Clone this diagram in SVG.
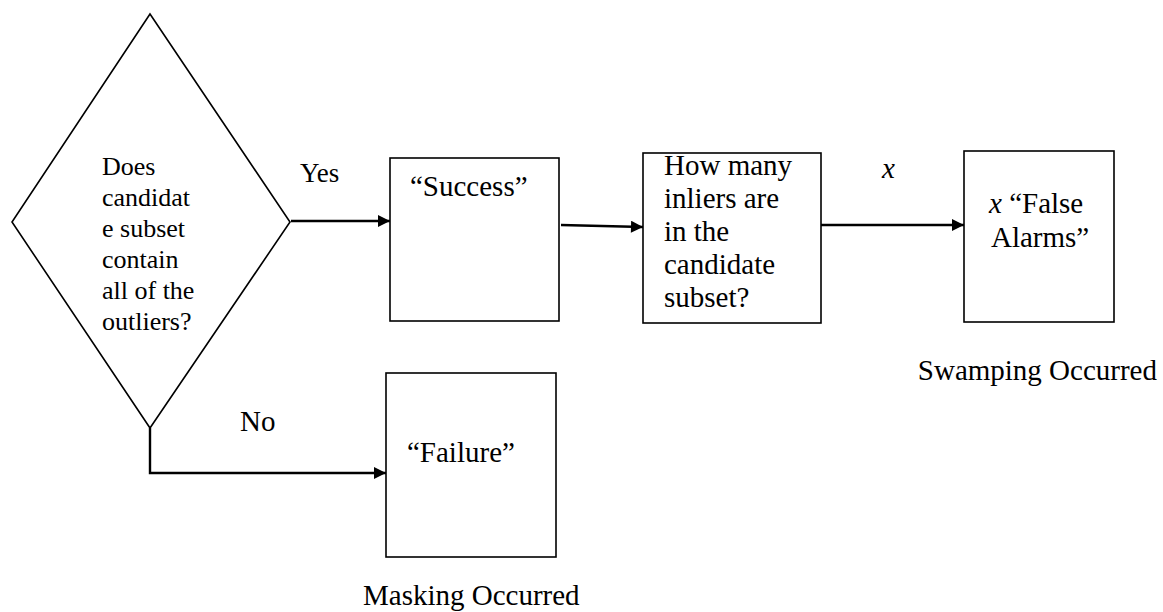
<svg xmlns="http://www.w3.org/2000/svg" width="1163" height="612" viewBox="0 0 1163 612">
<defs>
<style>
.shape{fill:#fff;stroke:#000;stroke-width:1.6}
.t{font-family:"Times New Roman","Liberation Serif",Tinos,"DejaVu Serif",serif;font-size:29px;fill:#000}
.td{font-family:"Times New Roman","Liberation Serif",Tinos,"DejaVu Serif",serif;font-size:26px;fill:#000}
.conn{fill:none;stroke:#000;stroke-width:2.4}
</style>
<marker id="ah" viewBox="0 0 10 10" refX="10" refY="5" markerWidth="6" markerHeight="5" markerUnits="strokeWidth" orient="auto">
<path d="M0,0 L10,5 L0,10 z" fill="#000"/>
</marker>
</defs>
<rect width="1163" height="612" fill="#fff"/>
<g id="decision">
<polygon class="shape" points="150,14 290,222 150,428 12,222"/>
<text class="td"><tspan x="102" y="175">Does</tspan><tspan x="102" y="206">candidat</tspan><tspan x="102" y="237">e subset</tspan><tspan x="102" y="268">contain</tspan><tspan x="102" y="299">all of the</tspan><tspan x="102" y="330">outliers?</tspan></text>
</g>
<g id="success">
<rect class="shape" x="390" y="158" width="169" height="163"/>
<text class="t" x="410" y="196">“Success”</text>
</g>
<g id="howmany">
<rect class="shape" x="643" y="153" width="178" height="170"/>
<text class="t"><tspan x="664" y="175">How many</tspan><tspan x="664" y="208">inliers are</tspan><tspan x="664" y="241">in the</tspan><tspan x="664" y="274">candidate</tspan><tspan x="664" y="307">subset?</tspan></text>
</g>
<g id="falsealarms">
<rect class="shape" x="964" y="151" width="150" height="171"/>
<text class="t"><tspan x="989" y="213"><tspan font-style="italic">x</tspan> “False</tspan><tspan x="991" y="247">Alarms”</tspan></text>
<text class="t" x="1157" y="380" text-anchor="end">Swamping Occurred</text>
</g>
<g id="failure">
<rect class="shape" x="386" y="373" width="170" height="184"/>
<text class="t" x="407" y="462">“Failure”</text>
<text class="t" x="363" y="605">Masking Occurred</text>
</g>
<g id="connectors">
<path class="conn" d="M291,221 L390,221" marker-end="url(#ah)"/>
<path class="conn" d="M561,225 L643,227" marker-end="url(#ah)"/>
<path class="conn" d="M821,225 L964,225" marker-end="url(#ah)"/>
<path class="conn" d="M150,428 L150,473 L386,473" marker-end="url(#ah)"/>
<text class="t" x="300" y="182" style="font-size:27px">Yes</text>
<text class="t" x="240" y="431">No</text>
<text class="t" x="882" y="178" font-style="italic">x</text>
</g>
</svg>
